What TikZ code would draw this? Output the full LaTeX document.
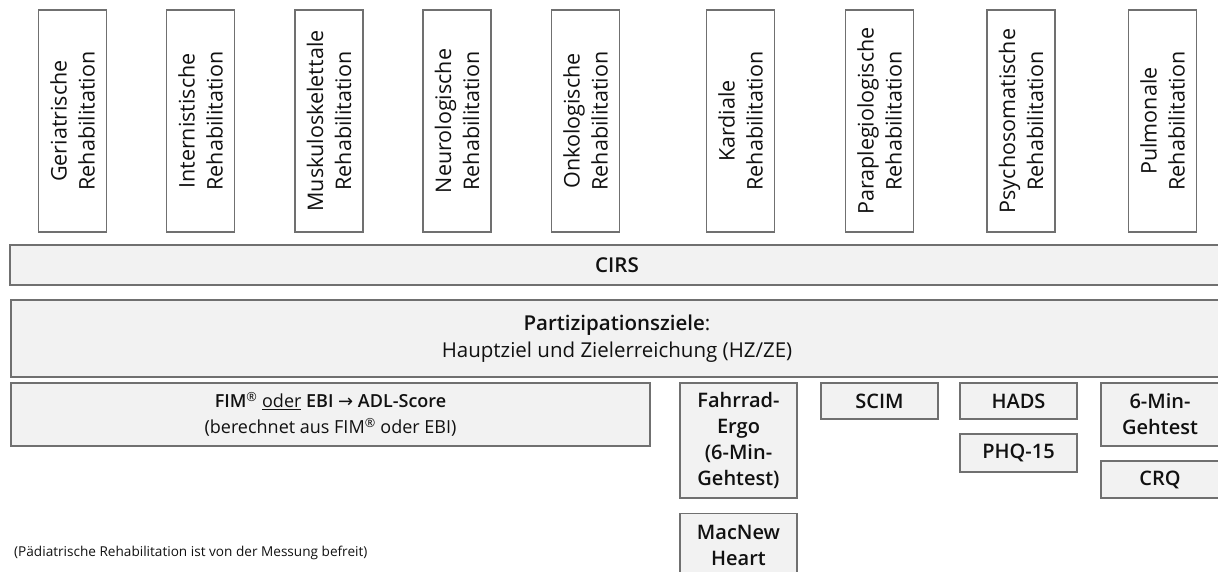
\documentclass[tikz,border=0pt]{standalone}
\usepackage{fontspec}
\setmainfont{Open Sans}[BoldFont={Open Sans Semibold}]
\newfontfamily\dejavu{DejaVu Sans}
\definecolor{boxfill}{HTML}{F2F2F2}
\definecolor{boxdraw}{HTML}{707070}
\definecolor{txt}{HTML}{111111}
\begin{document}
\begin{tikzpicture}[x=1pt,y=-1pt,
  every node/.style={text=txt, inner sep=0pt},
  tbox/.style={draw=boxdraw, line width=1.3pt, fill=white, rotate=90, minimum width=222pt, minimum height=68pt, align=center, font=\fontsize{21.5}{28}\selectfont},
  gbox/.style={draw=boxdraw, line width=1.3pt, fill=boxfill, align=center, font=\fontsize{20.5}{27}\selectfont},
  sbox/.style={gbox, font=\fontsize{20}{26}\selectfont\bfseries, minimum width=117pt},
]
\useasboundingbox (0,0) rectangle (1218,571);
% top vertical boxes
\node[tbox] (geri) at (72.5,121) {Geriatrische\\Rehabilitation};
\node[tbox] (inte) at (200.5,121) {Internistische\\Rehabilitation};
\node[tbox] (musk) at (329,121) {Muskuloskelettale\\Rehabilitation};
\node[tbox] (neur) at (457,121) {Neurologische\\Rehabilitation};
\node[tbox] (onko) at (585.5,121) {Onkologische\\Rehabilitation};
\node[tbox] (kard) at (740.5,121) {Kardiale\\Rehabilitation};
\node[tbox] (para) at (879.5,121) {Paraplegiologische\\Rehabilitation};
\node[tbox] (psyc) at (1021,121) {Psychosomatische\\Rehabilitation};
\node[tbox] (pulm) at (1162.5,121) {Pulmonale\\Rehabilitation};
% wide bars
\node[gbox, minimum width=1214pt, minimum height=40pt, font=\fontsize{20.5}{27}\selectfont\bfseries] (cirs) at (617,265) {CIRS};
\node[gbox, minimum width=1212pt, minimum height=77pt] (ziel) at (617,338.5) {\textbf{Partizipationsziele}:\\Hauptziel und Zielerreichung (HZ/ZE)};
% bottom boxes
\node[gbox, minimum width=639pt, minimum height=63pt, font=\fontsize{18}{26}\selectfont] (fim) at (330.5,414.5) {\textbf{FIM}\textsuperscript{®} \underline{oder} \textbf{EBI} {\dejavu →} \textbf{ADL-Score}\\(berechnet aus FIM\textsuperscript{®} oder EBI)};
\node[sbox, minimum height=115pt] (fahr) at (738.5,440.5) {Fahrrad-\\Ergo\\(6-Min-\\Gehtest)};
\node[sbox, minimum height=64pt, anchor=north] (macn) at (738.5,513) {MacNew\\Heart};
\node[sbox, minimum height=36pt] (scim) at (879.5,401) {SCIM};
\node[sbox, minimum height=36pt] (hads) at (1018.5,401) {HADS};
\node[sbox, minimum height=38pt] (phq) at (1018.5,453) {PHQ-15};
\node[sbox, minimum width=118pt, minimum height=63pt] (sechs) at (1160,414.5) {6-Min-\\Gehtest};
\node[sbox, minimum width=118pt, minimum height=37pt] (crq) at (1160,479.5) {CRQ};
% footnote
\node[anchor=west, font=\fontsize{13.6}{16}\selectfont] (foot) at (14,553) {(Pädiatrische Rehabilitation ist von der Messung befreit)};
\end{tikzpicture}
\end{document}
